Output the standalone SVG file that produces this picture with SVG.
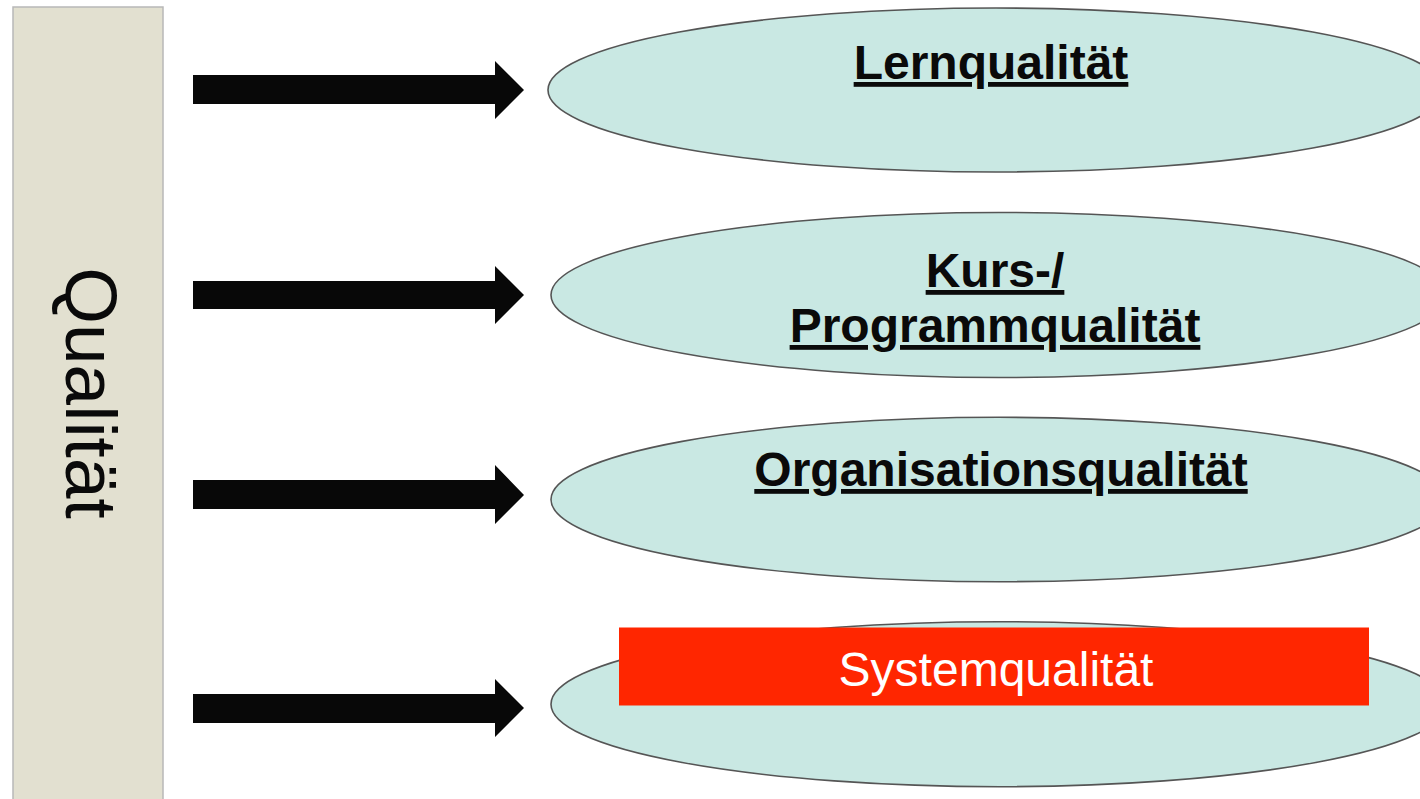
<svg xmlns="http://www.w3.org/2000/svg" width="1420" height="799" viewBox="0 0 1420 799">
<style>
.oval{fill:#c9e8e3;stroke:#555;stroke-width:1.6}
.lbl{font-family:"Liberation Sans",Arial,sans-serif;font-size:48px;font-weight:bold;fill:#0a0a0a;text-anchor:middle;text-decoration:underline}
.arrow{fill:#080808}
</style>
<rect width="1420" height="799" fill="#fff"/>
<g id="qualitaet">
<rect x="13" y="7" width="150" height="800" fill="#e2e0d0" stroke="#b8b8b8" stroke-width="1.5"/>
<text transform="translate(66,393) rotate(90)" font-family="'Liberation Sans',Arial,sans-serif" font-size="73" fill="#0a0a0a" text-anchor="middle">Qualität</text>
</g>
<g id="connectors">
<path class="arrow" d="M193,75 H495 V61 L524,90 L495,119 V104 H193 Z"/>
<path class="arrow" d="M193,281 H495 V266 L524,295 L495,324 V309 H193 Z"/>
<path class="arrow" d="M193,480 H495 V465 L524,495 L495,524 V509 H193 Z"/>
<path class="arrow" d="M193,694 H495 V679 L524,708 L495,737 V723 H193 Z"/>
</g>
<g id="lernqualitaet">
<ellipse class="oval" cx="996" cy="90" rx="448" ry="82"/>
<text class="lbl" x="991" y="79">Lernqualität</text>
</g>
<g id="programmqualitaet">
<ellipse class="oval" cx="999" cy="295" rx="448" ry="82.5"/>
<text class="lbl" x="995" y="287">Kurs-/</text>
<text class="lbl" x="995" y="342">Programmqualität</text>
</g>
<g id="organisationsqualitaet">
<ellipse class="oval" cx="999" cy="499.5" rx="448" ry="82.2"/>
<text class="lbl" x="1001" y="486">Organisationsqualität</text>
</g>
<g id="systemqualitaet">
<ellipse class="oval" cx="999" cy="704.2" rx="448" ry="82.5"/>
<rect x="619" y="627.5" width="750" height="78" fill="#ff2600"/>
<text x="996" y="686" font-family="'Liberation Sans',Arial,sans-serif" font-size="48" fill="#fff" text-anchor="middle">Systemqualität</text>
</g>
</svg>
